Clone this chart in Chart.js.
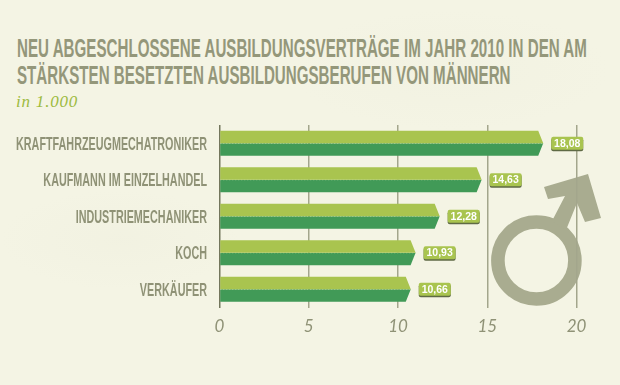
<!DOCTYPE html>
<html lang="de">
<head>
<meta charset="utf-8">
<title>Ausbildungsberufe Männer</title>
<script src="https://cdn.jsdelivr.net/npm/chart.js@4"></script>
<style>
    html, body { margin: 0; padding: 0; }
    body {
        width: 620px; height: 385px; position: relative; overflow: hidden;
        background-color: #f4f4e4;
        background-image:
            radial-gradient(ellipse 120px 50px at 120px 240px, rgba(228,228,210,.15), transparent),
            radial-gradient(ellipse 160px 60px at 450px 70px, rgba(230,230,212,.15), transparent);
    }
    .title {
        position: absolute; left: 17px; top: 35px; margin: 0;
        font: bold 26.5px/27px "Liberation Sans", sans-serif;
        color: #94977a; white-space: nowrap;
        transform-origin: 0 0;
    }
    .unit {
        position: absolute; left: 16px; top: 92px;
        font: italic 17px/20px "Liberation Serif", serif;
        letter-spacing: 0.8px; color: #9dbb3f;
    }
    svg, canvas { position: absolute; left: 0; top: 0; }
</style>
</head>
<body>
<h1 class="title" id="title">NEU ABGESCHLOSSENE AUSBILDUNGSVERTRÄGE IM JAHR 2010 IN DEN AM<br>STÄRKSTEN BESETZTEN AUSBILDUNGSBERUFEN VON MÄNNERN</h1>
<div class="unit">in 1.000</div>
<svg width="620" height="385">
    <!-- Männersymbol -->
    <circle cx="536.4" cy="260.5" r="38.5" fill="none" stroke="#a9ac90" stroke-width="13.6"/>
    <polygon fill="#a9ac90" points="544,187 588,174 601,218 585,222 577,203 566,230 552,221 565,196 548,199"/>
</svg>
<canvas id="chart" width="620" height="385"></canvas>
<script>
    const categories = ['KRAFTFAHRZEUGMECHATRONIKER', 'KAUFMANN IM EINZELHANDEL', 'INDUSTRIEMECHANIKER', 'KOCH', 'VERKÄUFER'];
    const values = [18.08, 14.63, 12.28, 10.93, 10.66];
    const valueLabels = ['18,08', '14,63', '12,28', '10,93', '10,66'];
    const xTicks = [0, 5, 10, 15, 20];

    const LIGHT = '#a9c44f';
    const DARK = '#419a57';

    // Titel auf die Breite der Vorlage stauchen (keine Condensed-Schrift installiert)
    const titleEl = document.getElementById('title');
    titleEl.style.transform = 'scaleX(' + (570 / titleEl.scrollWidth) + ')';

    // Balken mit Pfeilspitze statt Rechteck
    const arrowBars = {
        id: 'arrowBars',
        beforeDatasetDraw(chart, args) {
            const ctx = chart.ctx;
            const isTop = args.index === 0;
            const tip = 5;
            args.meta.data.forEach(bar => {
                const { x, y, base, height } = bar.getProps(['x', 'y', 'base', 'height']);
                const top = y - height / 2, bottom = y + height / 2, end = x + 1;
                ctx.beginPath();
                ctx.moveTo(base, top);
                if (isTop) {
                    ctx.lineTo(end - tip, top);
                    ctx.lineTo(end, bottom);
                } else {
                    ctx.lineTo(end, top);
                    ctx.lineTo(end - tip, bottom);
                }
                ctx.lineTo(base, bottom);
                ctx.closePath();
                ctx.fillStyle = isTop ? LIGHT : DARK;
                ctx.fill();
                // Naht an der Oberkante des dunklen Teils
                if (!isTop) {
                    ctx.save();
                    ctx.strokeStyle = 'rgba(255,255,220,.55)';
                    ctx.lineWidth = 1;
                    ctx.setLineDash([1, 2]);
                    ctx.beginPath();
                    ctx.moveTo(base, top);
                    ctx.lineTo(end - 1, top);
                    ctx.stroke();
                    ctx.restore();
                }
            });
            return false;
        }
    };

    // Kategorie-Beschriftung, horizontal gestaucht
    const narrowLabels = {
        id: 'narrowLabels',
        afterDraw(chart) {
            const ctx = chart.ctx;
            const yScale = chart.scales.y;
            ctx.save();
            ctx.font = 'bold 19px "Liberation Sans", sans-serif';
            ctx.fillStyle = '#8f9276';
            ctx.textAlign = 'right';
            ctx.textBaseline = 'middle';
            const squeeze = 191 / ctx.measureText(categories[0]).width;
            categories.forEach((label, i) => {
                ctx.save();
                ctx.translate(207, yScale.getPixelForTick(i) + 1.5);
                ctx.scale(squeeze, 1);
                ctx.fillText(label, 0, 0);
                ctx.restore();
            });
            ctx.restore();
        }
    };

    // Wert-Etiketten rechts neben den Balken
    const valuePills = {
        id: 'valuePills',
        afterDatasetsDraw(chart) {
            const ctx = chart.ctx;
            const bars = chart.getDatasetMeta(0).data;
            ctx.save();
            bars.forEach((bar, i) => {
                const left = bar.x + 9, top = bar.y + bar.height / 2 - 6.5;
                ctx.fillStyle = '#5f6a45';
                ctx.beginPath();
                ctx.roundRect(left, top + 1.5, 32, 13, 2);
                ctx.fill();
                ctx.fillStyle = LIGHT;
                ctx.beginPath();
                ctx.roundRect(left, top, 32, 13, 2);
                ctx.fill();
                ctx.fillStyle = '#ffffff';
                ctx.font = 'bold 10.5px "Liberation Sans", sans-serif';
                ctx.textAlign = 'center';
                ctx.textBaseline = 'middle';
                ctx.fillText(valueLabels[i], left + 16, top + 7);
            });
            ctx.restore();
        }
    };

    new Chart(document.getElementById('chart'), {
        type: 'bar',
        data: {
            labels: categories,
            datasets: [
                { data: values, backgroundColor: LIGHT, barPercentage: 1, categoryPercentage: 25 / 36.5 },
                { data: values, backgroundColor: DARK, barPercentage: 1, categoryPercentage: 25 / 36.5 }
            ]
        },
        options: {
            indexAxis: 'y',
            responsive: false,
            animation: false,
            layout: { padding: { top: 125, right: 43.5, bottom: 0, left: 0 } },
            plugins: { legend: { display: false }, tooltip: { enabled: false } },
            scales: {
                x: {
                    min: 0,
                    max: 20,
                    afterBuildTicks(scale) { scale.ticks = xTicks.map(value => ({ value })); },
                    afterFit(scale) { scale.height = 77.5; },
                    border: { display: false },
                    grid: {
                        color: ctx => ctx.tick && ctx.tick.value === 0 ? '#73765c' : '#a3a68c',
                        lineWidth: 1.5,
                        drawTicks: false
                    },
                    ticks: {
                        padding: 9,
                        color: '#8f9276',
                        font: { family: 'Lato', style: 'italic', size: 17 },
                        maxRotation: 0
                    }
                },
                y: {
                    afterFit(scale) { scale.width = 219.5; },
                    border: { display: false },
                    grid: { display: false },
                    ticks: { display: false }
                }
            }
        },
        plugins: [arrowBars, valuePills, narrowLabels]
    });
</script>
</body>
</html>
